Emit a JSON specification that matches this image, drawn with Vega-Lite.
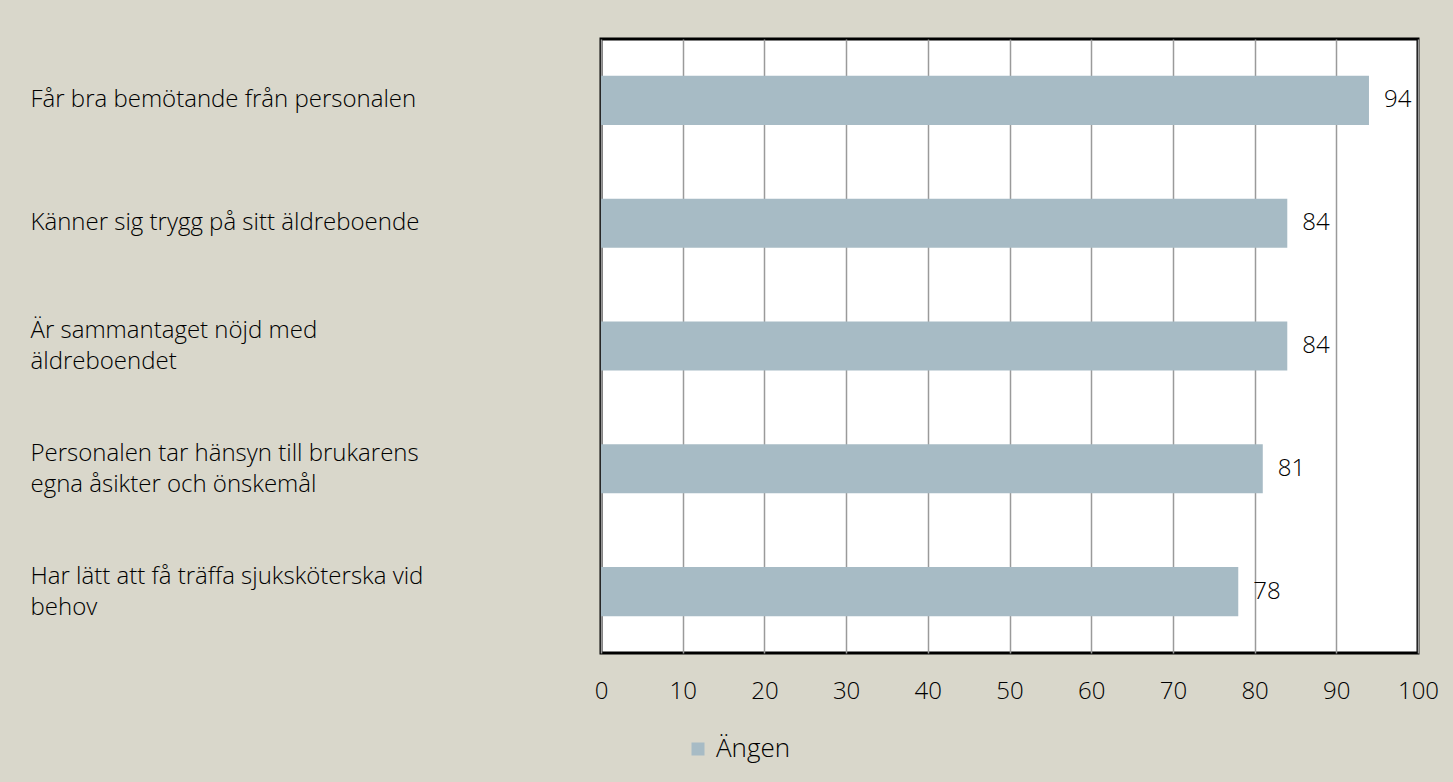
{
  "$schema": "https://vega.github.io/schema/vega-lite/v6.json",
  "autosize": "none",
  "width": 817,
  "height": 614,
  "padding": {"left": 601, "top": 39, "right": 35, "bottom": 129},
  "background": "#d9d7cb",
  "config": {
    "view": {"stroke": "#000000", "strokeWidth": 3, "fill": "#ffffff"},
    "font": "Open Sans"
  },
  "data": {
    "values": [
      {"fraga": "Får bra bemötande från personalen", "ordning": 1, "andel": 94, "enhet": "Ängen"},
      {"fraga": "Känner sig trygg på sitt äldreboende", "ordning": 2, "andel": 84, "enhet": "Ängen"},
      {"fraga": "Är sammantaget nöjd med|äldreboendet", "ordning": 3, "andel": 84, "enhet": "Ängen"},
      {"fraga": "Personalen tar hänsyn till brukarens|egna åsikter och önskemål", "ordning": 4, "andel": 81, "enhet": "Ängen"},
      {"fraga": "Har lätt att få träffa sjuksköterska vid|behov", "ordning": 5, "andel": 78, "enhet": "Ängen"}
    ]
  },
  "encoding": {
    "y": {
      "field": "fraga",
      "type": "nominal",
      "sort": {"field": "ordning", "order": "ascending"},
      "scale": {"paddingInner": 0.6, "paddingOuter": 0.3},
      "axis": {
        "title": null,
        "domain": false,
        "ticks": false,
        "tickSize": 0,
        "labelAlign": "left",
        "labelBaseline": "middle",
        "labelPadding": 571,
        "labelLimit": 700,
        "labelFontSize": 24,
        "labelFontWeight": 300,
        "labelColor": "#000000",
        "labelLineHeight": 31,
        "labelOffset": {"condition": {"test": "indexof(datum.value, '|') >= 0", "value": -15}, "value": 0},
        "labelExpr": "split(datum.label, '|')"
      }
    },
    "x": {
      "field": "andel",
      "type": "quantitative",
      "scale": {"domain": [0, 100], "nice": false},
      "axis": {
        "title": null,
        "domain": false,
        "ticks": false,
        "values": [0, 10, 20, 30, 40, 50, 60, 70, 80, 90, 100],
        "grid": true,
        "gridColor": "#9a9a9a",
        "gridWidth": 1.5,
        "labelFontSize": 24,
        "labelFontWeight": 300,
        "labelColor": "#000000",
        "labelPadding": 26,
        "labelFlush": false
      }
    }
  },
  "layer": [
    {
      "mark": {"type": "bar", "color": "#a7bbc5"},
      "encoding": {
        "color": {
          "field": "enhet",
          "type": "nominal",
          "scale": {"range": ["#a7bbc5"]},
          "legend": {
            "title": null,
            "orient": "none",
            "legendX": 84,
            "legendY": 697,
            "symbolType": "square",
            "symbolSize": 169,
            "symbolStrokeWidth": 0,
            "labelFontSize": 26,
            "labelFontWeight": 300,
            "labelColor": "#000000",
            "labelOffset": 5
          }
        }
      }
    },
    {
      "mark": {"type": "text", "align": "left", "baseline": "middle", "dx": 15, "fontSize": 24, "fontWeight": 300, "color": "#000000"},
      "encoding": {"text": {"field": "andel", "type": "quantitative"}}
    }
  ]
}
